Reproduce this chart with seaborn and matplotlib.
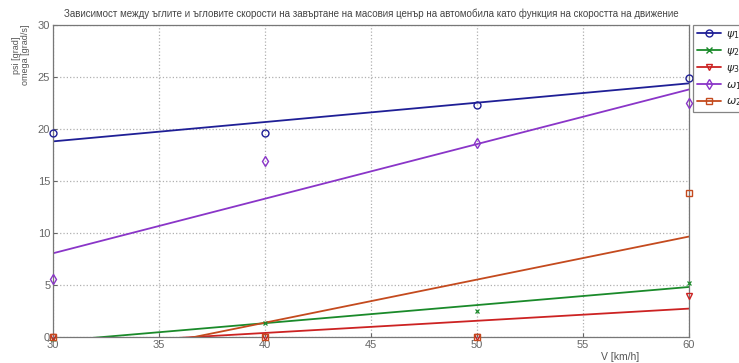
import numpy as np
import pandas as pd
import matplotlib
matplotlib.use("Agg")
import matplotlib.pyplot as plt
import seaborn as sns
from matplotlib.lines import Line2D

# Data
speed = [30, 40, 50, 60]
psi1 = [19.6, 19.6, 22.3, 24.9]
psi2 = [-0.2, 1.3, 2.5, 5.2]
psi3 = [0.0, 0.0, 0.0, 3.9]
omega1 = [5.6, 16.9, 18.7, 22.5]
omega2 = [0.0, 0.0, 0.0, 13.8]

labels = [r"$\psi_1$", r"$\psi_2$", r"$\psi_3$", r"$\omega_1$", r"$\omega_2$"]
series = [psi1, psi2, psi3, omega1, omega2]
colors = ["#1f1f96", "#1a8a2a", "#cc2222", "#8a35c8", "#c44a1e"]
markers = ["o", "x", "v", "d", "s"]

sns.set_style("white")
plt.rcParams["font.family"] = ["Liberation Sans", "DejaVu Sans"]

fig = plt.figure(figsize=(7.39, 3.63), dpi=100)
ax = fig.add_axes([53 / 739, 26 / 363, 636 / 739, 312 / 363])

handles = []
for lab, ys, c, m in zip(labels, series, colors, markers):
    df = pd.DataFrame({"V": speed, "y": ys})
    sns.regplot(data=df, x="V", y="y", ax=ax, ci=None, scatter=False,
                color=c, line_kws={"lw": 1.3})
    if m == "x":
        ax.plot(df["V"], df["y"], linestyle="none", marker=m, ms=3.5,
                mew=0.9, color=c, clip_on=False, zorder=5)
    else:
        ax.plot(df["V"], df["y"], linestyle="none", marker=m, ms=5,
                mfc="none", mec=c, mew=1.0, clip_on=False, zorder=5)
    handles.append(Line2D([], [], color=c, lw=1.3, marker=m, ms=5,
                          mfc="none" if m != "x" else c, mec=c, label=lab))

ax.set_xlim(30, 60)
ax.set_ylim(0, 30)
ax.set_xticks(np.arange(30, 61, 5))
ax.set_yticks(np.arange(0, 31, 5))
ax.grid(True, linestyle=":", color="#b0b0b0", lw=0.9)
ax.tick_params(axis="both", labelsize=8, colors="#666666", length=3,
               direction="in", pad=2, bottom=True, left=True)
for s in ax.spines.values():
    s.set_color("#777777")
    s.set_linewidth(0.9)
ax.set_xlabel("")
ax.set_ylabel("")

ax.set_title("Зависимост между ъглите и ъгловите скорости на завъртане на масовия ценър "
             "на автомобила като функция на скоростта на движение",
             fontsize=7.0, color="#444444", pad=6)

fig.text(620 / 739, 1 - 357 / 363, "V [km/h]", fontsize=7.5, color="#555555",
         ha="center", va="center")
fig.text(21 / 739, 1 - 55 / 363, "psi [grad]\nomega [grad/s]", fontsize=6.5,
         color="#555555", rotation=90, ha="center", va="center",
         multialignment="center", linespacing=0.95)

leg = ax.legend(handles=handles, loc="upper left", bbox_to_anchor=(1.006, 1.0),
                frameon=True, fancybox=False, fontsize=8, handlelength=2.2,
                borderaxespad=0, labelspacing=0.45, handletextpad=0.4,
                borderpad=0.35)
leg.get_frame().set_edgecolor("#666666")
leg.get_frame().set_linewidth(0.9)

fig.savefig("out.png", dpi=100)
